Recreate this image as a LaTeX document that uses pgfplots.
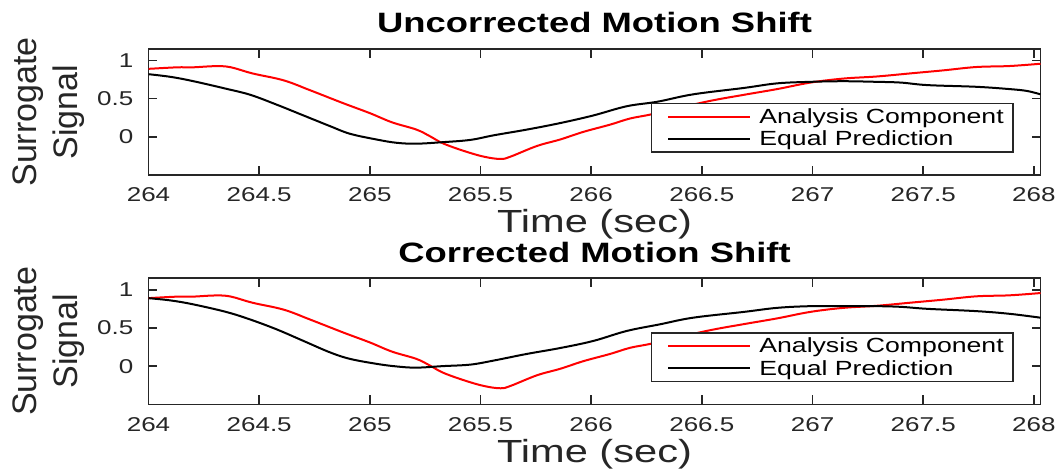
\documentclass[border=0pt]{standalone}
\usepackage{fontspec}
\setmainfont{Liberation Sans}[FakeStretch=1.3]
\newfontfamily\ylfont{Liberation Sans}
\usepackage{pgfplots}
\pgfplotsset{compat=1.18}
\definecolor{axisgray}{RGB}{38,38,38}

\pgfplotstableread{
t v
264.00 0.89
264.13 0.91
264.20 0.91
264.30 0.925
264.37 0.912
264.47 0.83
264.61 0.74
264.73 0.61
264.88 0.44
265.00 0.31
265.10 0.19
265.21 0.095
265.27 0.01
265.33 -0.085
265.425 -0.185
265.515 -0.26
265.59 -0.29
265.635 -0.26
265.755 -0.12
265.86 -0.035
265.965 0.065
266.086 0.16
266.176 0.24
266.281 0.30
266.52 0.46
266.69 0.55
266.84 0.625
266.99 0.71
267.14 0.763
267.29 0.79
267.44 0.83
267.59 0.87
267.74 0.914
267.89 0.927
268.03 0.957
}\redA

\pgfplotstableread{
t v
264.00 0.82
264.10 0.785
264.20 0.73
264.35 0.63
264.46 0.55
264.58 0.42
264.70 0.28
264.82 0.14
264.91 0.04
265.03 -0.035
265.12 -0.078
265.21 -0.09
265.33 -0.07
265.455 -0.04
265.56 0.02
265.71 0.095
265.86 0.18
266.01 0.28
266.16 0.40
266.30 0.46
266.46 0.556
266.69 0.64
266.84 0.70
266.99 0.72
267.14 0.728
267.29 0.72
267.40 0.71
267.52 0.677
267.74 0.655
267.89 0.625
267.97 0.60
268.03 0.556
}\blackA

\pgfplotstableread{
t v
264.00 0.89
264.10 0.86
264.20 0.81
264.35 0.71
264.46 0.61
264.58 0.48
264.70 0.33
264.82 0.18
264.91 0.095
265.03 0.03
265.12 -0.004
265.21 -0.02
265.33 0.0
265.455 0.02
265.56 0.073
265.71 0.16
265.86 0.237
266.01 0.33
266.16 0.46
266.31 0.547
266.46 0.634
266.69 0.71
266.84 0.763
266.99 0.785
267.14 0.785
267.29 0.785
267.40 0.776
267.52 0.75
267.74 0.72
267.89 0.685
268.03 0.634
}\blackB

\pgfplotsset{
  mystyle/.style={
    width=892pt, height=126pt, scale only axis,
    xmin=264, xmax=268.03, ymin=-0.5, ymax=1.15,
    xtick={264,264.5,265,265.5,266,266.5,267,267.5,268},
    xticklabels={264,264.5,265,265.5,266,266.5,267,267.5,268},
    ytick={0,0.5,1}, yticklabels={0,0.5,1},
    tick align=inside, major tick length=9pt,
    axis line style={line width=1.6pt, draw=axisgray},
    tick style={line width=1.6pt, draw=axisgray},
    xticklabel style={font=\fontsize{20}{24}\selectfont, text=axisgray, anchor=base, yshift=-26.7pt},
    yticklabel style={font=\fontsize{20}{24}\selectfont, text=axisgray, anchor=east, inner sep=0pt, xshift=-15pt},
    xlabel={Time (sec)},
    xlabel style={font=\fontsize{32}{38}\selectfont, text=axisgray, at={(rel axis cs:0.5,0)}, anchor=base, yshift=-58pt},
    ylabel={Surrogate\\Signal},
    ylabel style={align=center, font=\ylfont\fontsize{34}{41}\selectfont, text=axisgray, at={(rel axis cs:-0.1115,0.5)}, anchor=center},
    title style={font=\fontsize{28}{34}\selectfont\bfseries, at={(rel axis cs:0.5,1)}, anchor=base, yshift=10pt},
    legend style={at={(rel axis cs:1,0)}, anchor=south east, xshift=-27pt, yshift=22pt,
      draw=axisgray, line width=1.5pt, fill=white, inner xsep=9pt, inner ysep=3pt,
      font=\fontsize{20.5}{23}\selectfont, row sep=2pt, column sep=8.5pt,
      nodes={inner xsep=0pt}},
    legend cell align=left,
    legend image code/.code={\path (0pt,0pt); \draw[##1] (6.7pt,0pt) -- (88.3pt,0pt);},
  }
}

\begin{document}
\begin{tikzpicture}
\begin{axis}[mystyle, at={(148.5pt,-175pt)}, anchor=south west, title={Uncorrected Motion Shift}]
\addplot[red, line width=2pt, smooth, tension=0.6] table[x=t,y=v] {\redA};
\addlegendentry{Analysis Component}
\addplot[black, line width=2pt, smooth, tension=0.6] table[x=t,y=v] {\blackA};
\addlegendentry{Equal Prediction}
\end{axis}
\begin{axis}[mystyle, at={(148.5pt,-404.3pt)}, anchor=south west, title={Corrected Motion Shift}]
\addplot[red, line width=2pt, smooth, tension=0.6] table[x=t,y=v] {\redA};
\addlegendentry{Analysis Component}
\addplot[black, line width=2pt, smooth, tension=0.6] table[x=t,y=v] {\blackB};
\addlegendentry{Equal Prediction}
\end{axis}
\path (0pt,0pt) rectangle (1061pt,-471pt);
\end{tikzpicture}
\end{document}
